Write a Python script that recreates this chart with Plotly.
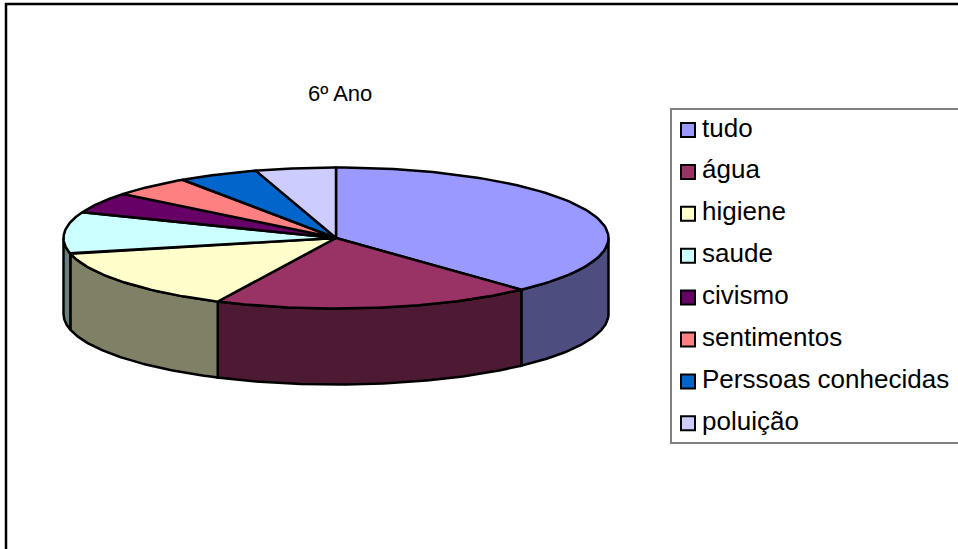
import numpy as np
import plotly.graph_objects as go

# 6º ano answers, clockwise from 12 o'clock
categories = ["tudo", "água", "higiene", "saude", "civismo", "sentimentos", "Perssoas conhecidas", "poluição"]
values = [8, 4, 3, 2, 1, 1, 1, 1]
colors = ["#9999FF", "#993366", "#FFFFCC", "#CCFFFF", "#660066", "#FF8080", "#0066CC", "#CCCCFF"]
wall_colors = ["#4D4D80", "#4D1933", "#808066", "#668080", "#330033", "#804040", "#003366", "#666680"]

CX, CY, RX, RY, DEPTH = 336, 238, 272.5, 70.5, 76
FONT = "Liberation Sans, Arial, sans-serif"


def rim(a0, a1, dy=0):
    t = np.linspace(a0, a1, 80)
    return CX + RX * np.sin(t), CY - RY * np.cos(t) + dy


fig = go.Figure()
edges = np.cumsum([0] + values) / sum(values) * 2 * np.pi

# side walls, only the front half of the pie shows them
for i in range(len(values)):
    a0 = max(edges[i], np.pi / 2)
    a1 = min(edges[i + 1], 3 * np.pi / 2)
    if a1 <= a0:
        continue
    x0, y0 = rim(a0, a1)
    x1, y1 = rim(a1, a0, DEPTH)
    fig.add_trace(go.Scatter(
        x=np.r_[x0, x1, x0[0]], y=np.r_[y0, y1, y0[0]],
        mode="lines", fill="toself", fillcolor=wall_colors[i],
        line=dict(color="black", width=2.5), hoverinfo="skip",
    ))

# top of the pie
for i in range(len(values)):
    x, y = rim(edges[i], edges[i + 1])
    fig.add_trace(go.Scatter(
        x=np.r_[CX, x, CX], y=np.r_[CY, y, CY],
        mode="lines", fill="toself", fillcolor=colors[i],
        line=dict(color="black", width=2.5), name=categories[i],
    ))

# legend
rows = 130 + 41.9 * np.arange(len(categories))
fig.add_trace(go.Scatter(
    x=[688] * len(categories), y=rows, mode="markers",
    marker=dict(symbol="square", size=14, color=colors, line=dict(color="black", width=2)),
    hoverinfo="skip",
))
fig.add_trace(go.Scatter(
    x=[702] * len(categories), y=rows, mode="text", text=categories,
    textposition="middle right", textfont=dict(family=FONT, size=26, color="black"),
    hoverinfo="skip",
))

fig.update_layout(
    width=958, height=549,
    margin=dict(l=0, r=0, t=0, b=0),
    paper_bgcolor="white", plot_bgcolor="white",
    showlegend=False,
    xaxis=dict(range=[0, 958], visible=False, fixedrange=True),
    yaxis=dict(range=[549, 0], visible=False, fixedrange=True),
    shapes=[
        dict(type="rect", x0=6, y0=4, x1=1000, y1=600, line=dict(color="black", width=2.5), layer="below"),
        dict(type="rect", x0=671, y0=109, x1=1000, y1=443, line=dict(color="#808080", width=2),
             fillcolor="white", layer="below"),
    ],
    annotations=[dict(
        x=340, y=93, text="6º Ano", showarrow=False, xanchor="center", yanchor="middle",
        font=dict(family=FONT, size=22, color="black"),
    )],
)

fig.write_html("out.html", config=dict(displayModeBar=False),
               post_script="document.body.style.margin = '0';")
